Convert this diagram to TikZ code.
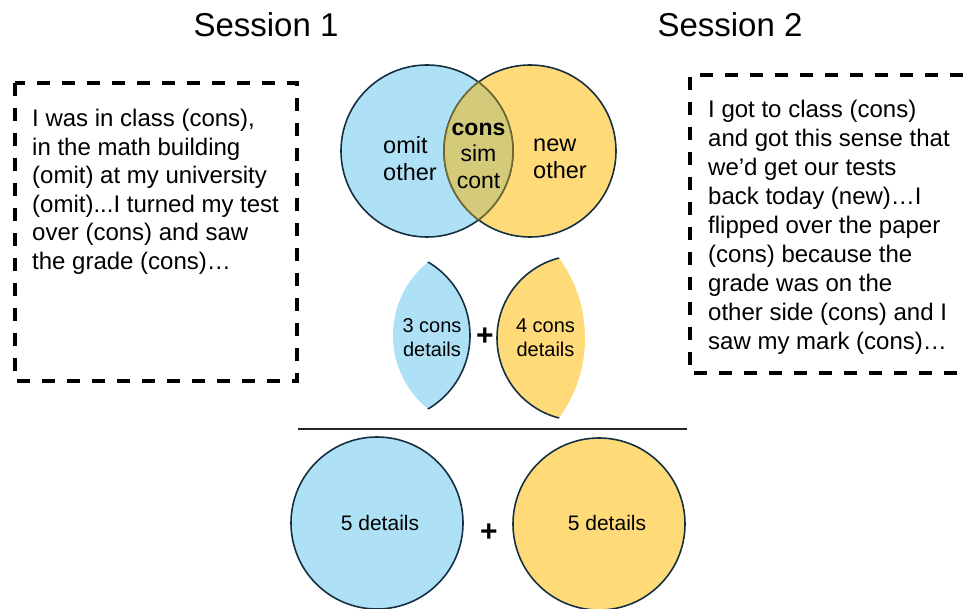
\documentclass[tikz,border=0pt]{standalone}
\usepackage{fontspec}
\setmainfont{Liberation Sans}

\definecolor{vblue}{RGB}{174,225,246}
\definecolor{vyellow}{RGB}{254,218,120}
\definecolor{volive}{RGB}{211,203,121}
\definecolor{vline}{RGB}{22,48,66}
\definecolor{vinner}{RGB}{112,104,48}

\begin{document}
\begin{tikzpicture}
[
    x=1pt, y=-1pt,
    sb/.style={line width=3.5pt, dash pattern=on 13pt off 12pt},    % sb = story box
    st/.style={anchor=north west, inner sep=0pt, align=left,
               font=\fontsize{24}{28.5}\selectfont},                % st = story text
    ol/.style={draw=vline, line width=1.6pt},                        % ol = outline
    vt/.style={inner sep=0pt, font=\fontsize{23.5}{27}\selectfont},  % vt = venn text
    lt/.style={inner sep=0pt, align=center,
               font=\fontsize{20}{24}\selectfont},                   % lt = lens text
    pl/.style={inner sep=0pt, font=\fontsize{30}{30}\selectfont\bfseries}, % pl = plus
]
\useasboundingbox (0,0) rectangle (963,609);

% titles
\node [font=\fontsize{33}{33}\selectfont] (s1) at (266,25) {Session 1};
\node [font=\fontsize{33}{33}\selectfont] (s2) at (730,25) {Session 2};

% story boxes
\draw [sb] (15,83) rectangle (297,381);
\draw [sb] (963,75) -- (690,75) -- (690,373) -- (963,373);
\node [st] (story1) at (32,109) {I was in class (cons),\\in the math building\\(omit) at my university\\(omit)...I turned my test\\over (cons) and saw\\the grade (cons)…};
\node [st, font=\fontsize{24}{29}\selectfont] (story2) at (708,100) {I got to class (cons)\\and got this sense that\\we’d get our tests\\back today (new)…I\\flipped over the paper\\(cons) because the\\grade was on the\\other side (cons) and I\\saw my mark (cons)…};

% venn
\fill [vblue] (427,151) circle [radius=86pt];
\fill [vyellow] (530,151) circle [radius=86pt];
\draw [ol] (427,151) circle [radius=86pt];
\draw [ol] (530,151) circle [radius=86pt];
\begin{scope}
  \clip (427,151) circle [radius=86pt];
  \fill [volive] (530,151) circle [radius=86pt];
  \draw [vinner, line width=1.6pt] (530,151) circle [radius=86pt];
\end{scope}
\begin{scope}
  \clip (530,151) circle [radius=86pt];
  \draw [vinner, line width=1.6pt] (427,151) circle [radius=86pt];
\end{scope}
\node [vt, anchor=west, align=left] (omit) at (383,158.5) {omit\\other};
\node [vt, anchor=west, align=left] (new) at (533,158.5) {new\\other};
\node [vt, align=center, font=\fontsize{23}{26.5}\selectfont] (cons) at (478.5,155.5) {\textbf{cons}\\sim\\cont};

% lenses
\begin{scope}
  \clip (487.7,335.5) circle [radius=94.7pt];
  \fill [vblue] (384.7,335.5) circle [radius=85.3pt];
  \draw [ol] (384.7,335.5) circle [radius=85.3pt];
\end{scope}
\begin{scope}
  \clip (448.9,338) circle [radius=136.1pt];
  \fill [vyellow] (579.6,338) circle [radius=82.6pt];
  \draw [ol] (579.6,338) circle [radius=82.6pt];
\end{scope}
\node [lt] (c3) at (432,338) {3 cons\\details};
\node [pl] (p1) at (485,337) {+};
\node [lt] (c4) at (545.5,338) {4 cons\\details};

% line
\coordinate (hl) at (298,429);
\coordinate (hr) at (687,429);
\draw [line width=1.6pt, black!85] (hl) -- (hr);

% totals
\filldraw [fill=vblue, ol] (377,523) circle [radius=86pt];
\filldraw [fill=vyellow, ol] (599,524) circle [radius=86pt];
\node [lt, font=\fontsize{21}{24}\selectfont] (d1) at (380,523) {5 details};
\node [pl] (p2) at (489,533) {+};
\node [lt, font=\fontsize{21}{24}\selectfont] (d2) at (607,523) {5 details};
\end{tikzpicture}
\end{document}
